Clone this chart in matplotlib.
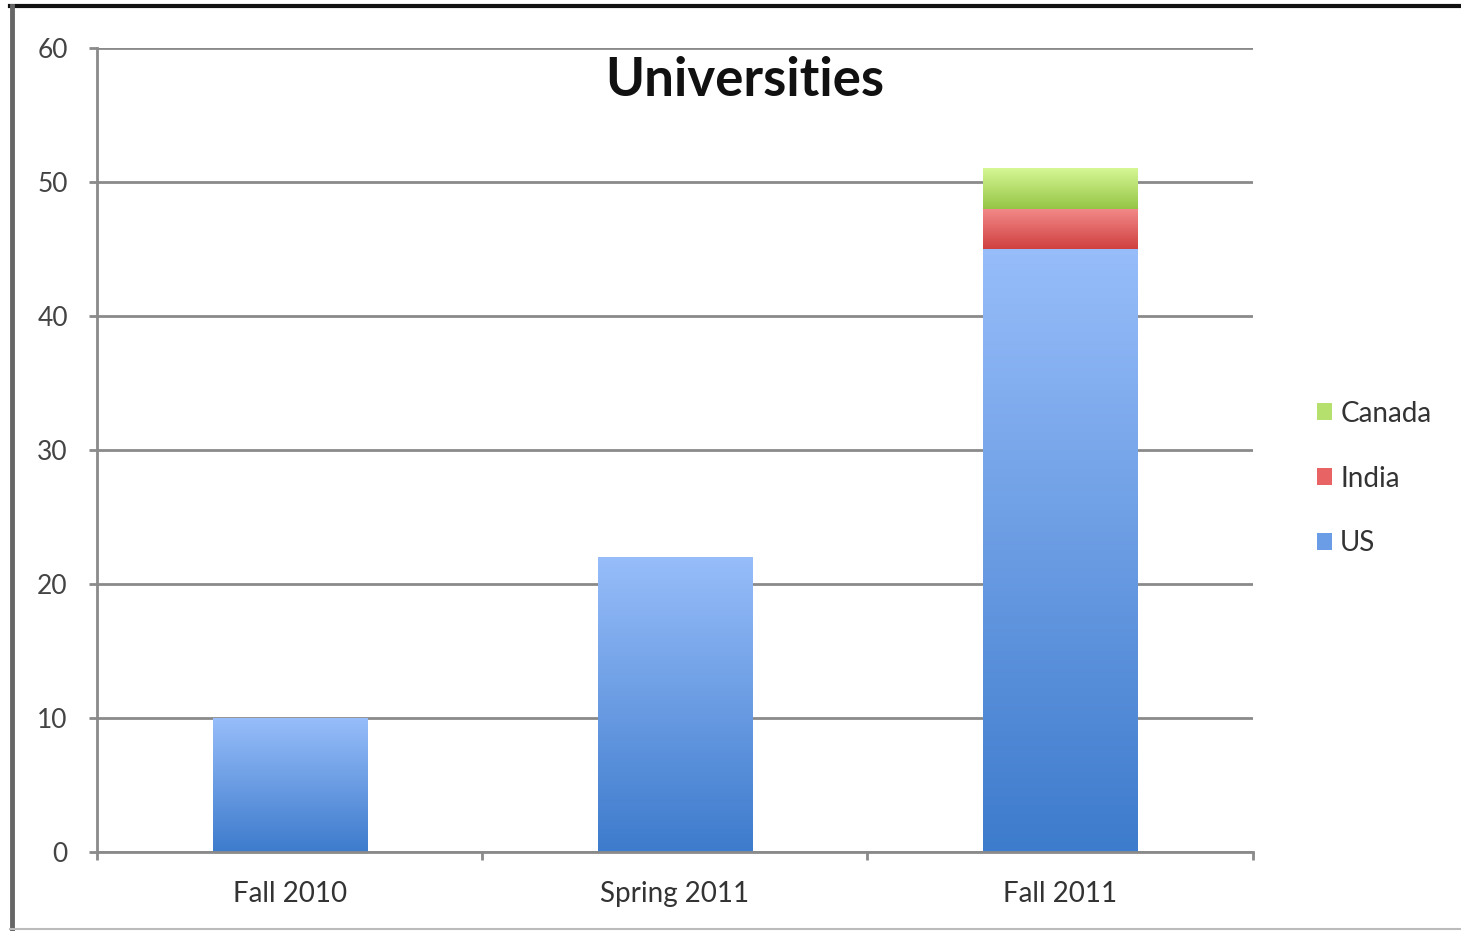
import numpy as np
import matplotlib
matplotlib.use("Agg")
import matplotlib.pyplot as plt
from matplotlib.patches import Patch
from matplotlib.colors import LinearSegmentedColormap
from matplotlib.lines import Line2D

plt.rcParams['font.family'] = ['Lato', 'DejaVu Sans']

# data
terms = ['Fall 2010', 'Spring 2011', 'Fall 2011']
us = [10, 22, 45]
india = [0, 0, 3]
canada = [0, 0, 3]

# name, values, top colour, bottom colour, legend colour
series = [
    ('US', us, '#97bdfa', '#3d7bcc', '#6a9de6'),
    ('India', india, '#f38a8a', '#d04040', '#e86464'),
    ('Canada', canada, '#d6f795', '#95c545', '#b5e06d'),
]

fig = plt.figure(figsize=(14.61, 9.31), dpi=100)
ax = fig.add_axes([0.0664, 0.0849, 0.791, 0.8635])

x = np.arange(len(terms))
bottom = np.zeros(len(terms))
grad = np.linspace(1, 0, 256).reshape(-1, 1)
for name, vals, top_c, bot_c, _ in series:
    cmap = LinearSegmentedColormap.from_list(name, [bot_c, top_c])
    bars = ax.bar(x, vals, width=0.40, bottom=bottom, color='none',
                  edgecolor='none', zorder=3)
    for b in bars:
        if b.get_height() <= 0:
            continue
        x0, y0 = b.get_x(), b.get_y()
        ax.imshow(grad, cmap=cmap, aspect='auto', zorder=3,
                  extent=(x0, x0 + b.get_width(), y0, y0 + b.get_height()),
                  interpolation='bicubic')
    bottom += np.array(vals)

ax.set_xlim(-0.5, 2.5)
ax.set_ylim(0, 60)
ax.set_yticks(range(0, 61, 10))
ax.set_xticks(x)
ax.set_xticklabels(terms)
ax.set_xticks([-0.5, 0.5, 1.5, 2.5], minor=True)

grid_c = '#8a8a8a'
ax.yaxis.grid(True, color=grid_c, linewidth=2, zorder=1)
ax.set_axisbelow(True)
for s in ['top', 'right']:
    ax.spines[s].set_visible(False)
for s in ['left', 'bottom']:
    ax.spines[s].set_color(grid_c)
    ax.spines[s].set_linewidth(2)
    ax.spines[s].set_zorder(4)

ax.tick_params(axis='y', direction='out', length=6, width=2, color=grid_c,
               labelsize=19, labelcolor='#444444', pad=15)
ax.tick_params(axis='x', which='major', length=0, labelsize=20,
               labelcolor='#333333', pad=21)
ax.tick_params(axis='x', which='minor', direction='out', length=6, width=2,
               color=grid_c)

fig.text(0.51, 0.914, 'Universities', ha='center', va='center',
         fontsize=38, fontweight='bold', color='#111111')

handles = [Patch(facecolor=lc, edgecolor='none', label=n)
           for n, _, _, _, lc in series][::-1]
leg = fig.legend(handles=handles, loc='center left',
                 bbox_to_anchor=(0.884, 0.486), frameon=False, fontsize=20,
                 handlelength=0.55, handleheight=0.55, handletextpad=0.3,
                 labelspacing=1.4)
for t in leg.get_texts():
    t.set_color('#333333')

# frame around the picture
fig.add_artist(Line2D([0.007, 1.0], [0.9935, 0.9935], transform=fig.transFigure,
                      color='#111111', linewidth=3))
fig.add_artist(Line2D([0.0085, 0.0085], [0.0, 0.9935], transform=fig.transFigure,
                      color='#666666', linewidth=3.5))
fig.add_artist(Line2D([0.007, 1.0], [0.002, 0.002], transform=fig.transFigure,
                      color='#bbbbbb', linewidth=1.5))

fig.savefig('out.png', dpi=100)
